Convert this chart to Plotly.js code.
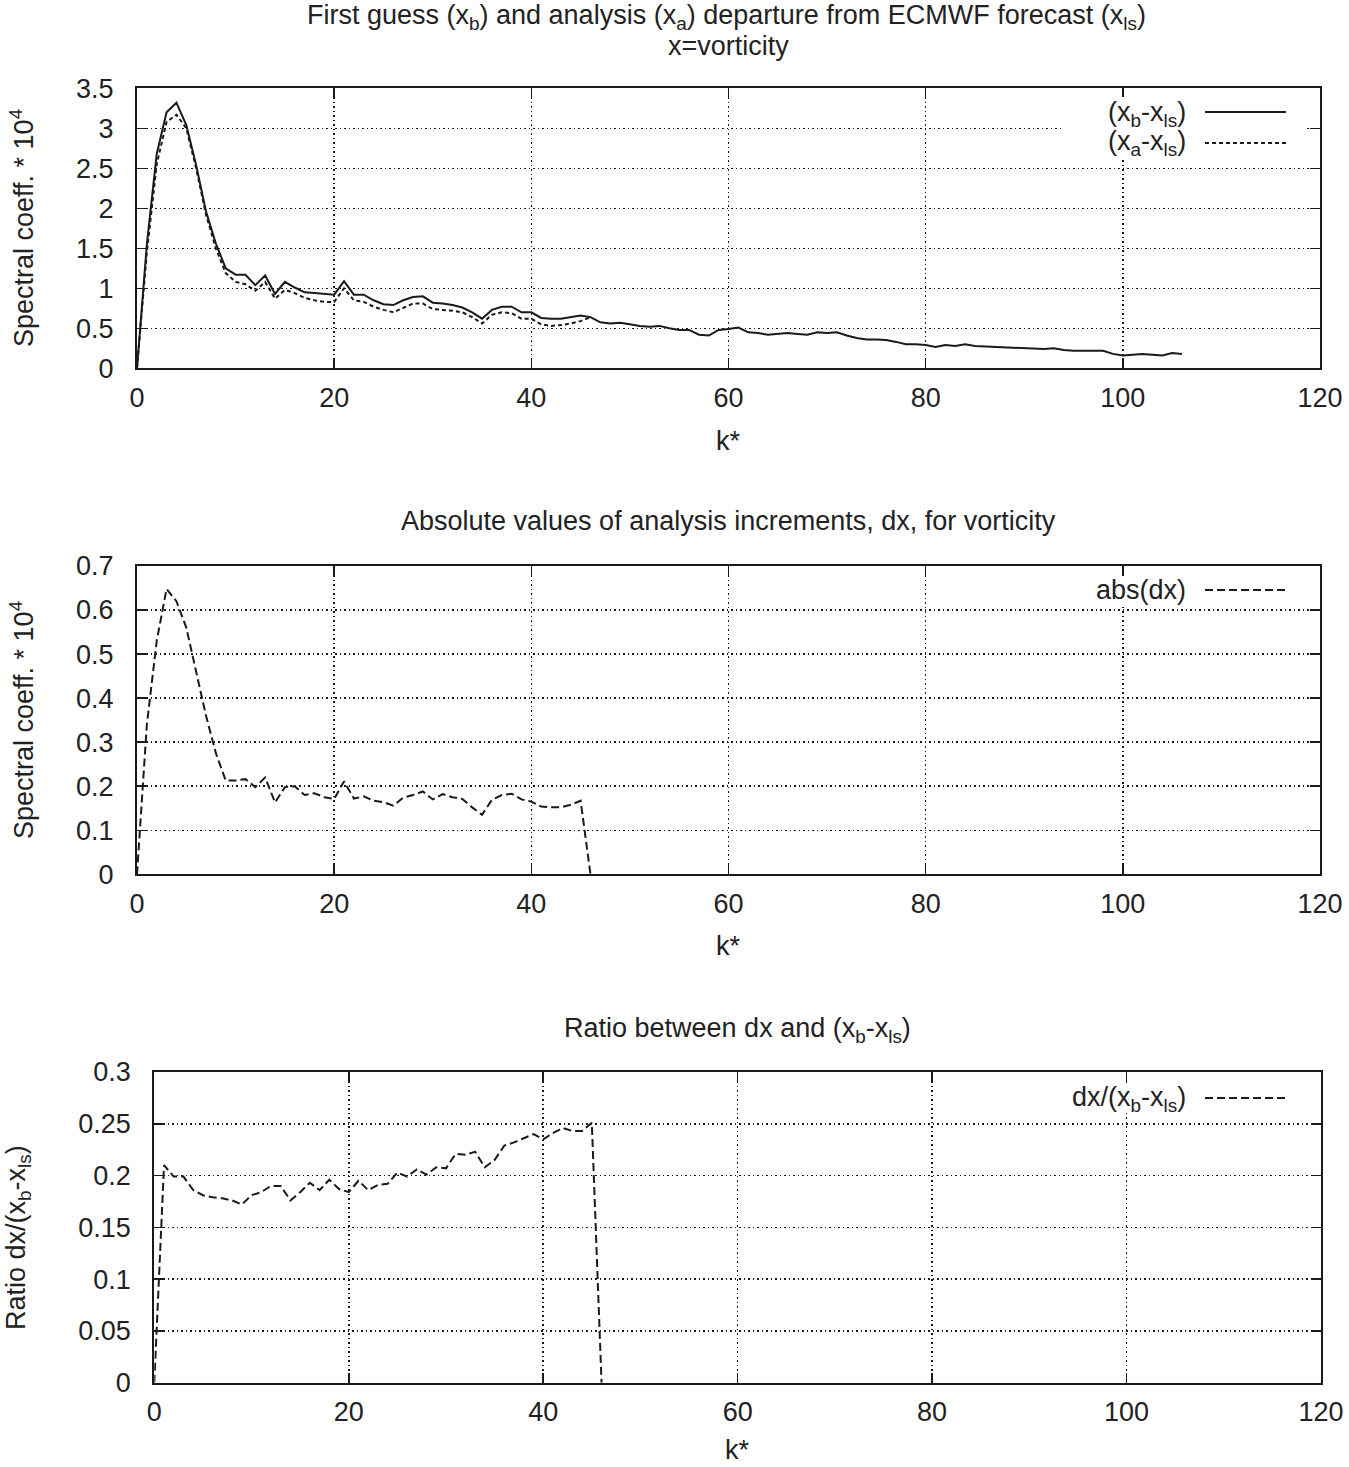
<!DOCTYPE html>
<html>
<head>
<meta charset="utf-8">
<script src="https://cdn.plot.ly/plotly-3.0.1.min.js"></script>
<style>html,body{margin:0;padding:0;background:#fff;}</style>
</head>
<body>
<div id="chart" style="width:1349px;height:1467px;"></div>
<script>
// ---- data ----
const xbMinusXls = [0,1.55,2.68,3.2,3.32,3.04,2.54,1.96,1.56,1.25,1.17,1.17,1.04,1.16,0.93,1.08,1.01,0.95,0.94,0.93,
  0.92,1.09,0.92,0.92,0.85,0.80,0.79,0.85,0.89,0.90,0.82,0.81,0.79,0.76,0.70,0.62,0.73,0.77,0.77,0.70,
  0.70,0.63,0.62,0.62,0.64,0.66,0.64,0.575,0.56,0.57,0.55,0.53,0.52,0.53,0.50,0.48,0.48,0.42,0.41,0.48,
  0.49,0.51,0.45,0.44,0.42,0.43,0.44,0.43,0.42,0.45,0.44,0.45,0.41,0.38,0.36,0.36,0.355,0.33,0.30,0.30,
  0.29,0.265,0.29,0.28,0.30,0.28,0.275,0.27,0.265,0.26,0.25,0.25,0.24,0.25,0.23,0.22,0.22,0.22,0.22,0.18,
  0.16,0.17,0.18,0.17,0.16,0.19,0.18];
const xaMinusXls = [0,1.45,2.55,3.08,3.17,3.0,2.5,1.92,1.5,1.19,1.08,1.05,0.97,1.08,0.87,0.98,0.94,0.88,0.85,0.83,
  0.83,1.0,0.85,0.83,0.77,0.73,0.70,0.76,0.81,0.81,0.74,0.73,0.72,0.70,0.64,0.56,0.67,0.70,0.69,0.62,
  0.62,0.55,0.53,0.54,0.56,0.59,0.64];
const absDx = [0,0.34,0.53,0.648,0.62,0.56,0.46,0.36,0.275,0.213,0.213,0.216,0.198,0.22,0.163,0.198,0.20,0.18,0.184,0.175,
  0.171,0.211,0.172,0.177,0.167,0.164,0.156,0.174,0.18,0.188,0.17,0.182,0.175,0.171,0.152,0.135,0.169,0.18,0.183,0.17,
  0.165,0.154,0.152,0.152,0.158,0.167,0];
const ratio = [0,0.21,0.199,0.199,0.186,0.181,0.179,0.178,0.176,0.172,0.181,0.184,0.19,0.19,0.176,0.184,0.193,0.186,0.196,0.187,
  0.184,0.195,0.186,0.191,0.192,0.203,0.199,0.206,0.201,0.208,0.207,0.221,0.22,0.223,0.208,0.215,0.229,0.232,0.236,0.24,
  0.235,0.241,0.246,0.243,0.243,0.251,0];
const kb = xbMinusXls.map((_, i) => i);
const ka = xaMinusXls.map((_, i) => i);
const kd = absDx.map((_, i) => i);
const kr = ratio.map((_, i) => i);

const xTicks = [0,20,40,60,80,100,120];
const y1Ticks = [0,0.5,1,1.5,2,2.5,3,3.5];
const y2Ticks = [0,0.1,0.2,0.3,0.4,0.5,0.6,0.7];
const y3Ticks = [0,0.05,0.1,0.15,0.2,0.25,0.3];

// ---- layout helpers ----
const W = 1349, H = 1467;
const px = v => v / W;
const py = v => 1 - v / H;
const FONT = 'Liberation Sans, Arial, sans-serif';
const TXT = '#222';
const FS = 27;

const traces = [
  {x: kb, y: xbMinusXls, xaxis: 'x', yaxis: 'y', mode: 'lines', line: {color: '#1a1a1a', width: 2}, showlegend: false},
  {x: ka, y: xaMinusXls, xaxis: 'x', yaxis: 'y', mode: 'lines', line: {color: '#1a1a1a', width: 2, dash: '4px,3px'}, showlegend: false},
  {x: kd, y: absDx, xaxis: 'x2', yaxis: 'y2', mode: 'lines', line: {color: '#1a1a1a', width: 2, dash: '8px,4px'}, showlegend: false},
  {x: kr, y: ratio, xaxis: 'x3', yaxis: 'y3', mode: 'lines', line: {color: '#1a1a1a', width: 2, dash: '8px,4px'}, showlegend: false}
];

function ax(extra) {
  return Object.assign({
    showline: true, linecolor: '#1a1a1a', linewidth: 2, mirror: 'ticks',
    ticks: 'inside', ticklen: 10, tickwidth: 1.5, tickcolor: '#1a1a1a',
    showgrid: true, gridcolor: '#1a1a1a', gridwidth: 1.5, griddash: '1.5px,3px',
    zeroline: false, tickfont: {family: FONT, size: FS, color: TXT},
    fixedrange: true
  }, extra);
}

function note(x, y, text, extra) {
  return Object.assign({xref: 'paper', yref: 'paper', x: px(x), y: py(y), xanchor: 'center', yanchor: 'middle',
    showarrow: false, text: text, font: {family: FONT, size: FS, color: TXT}}, extra || {});
}

function mask(x0, x1, y0, y1) {
  return {type: 'rect', xref: 'paper', yref: 'paper', x0: px(x0), x1: px(x1), y0: py(y1), y1: py(y0),
    fillcolor: '#fff', line: {width: 0}, layer: 'above'};
}
function sample(y, dash) {
  const l = {color: '#1a1a1a', width: 2};
  if (dash) l.dash = dash;
  return {type: 'line', xref: 'paper', yref: 'paper', x0: px(1205), x1: px(1286), y0: py(y), y1: py(y), line: l, layer: 'above'};
}

const layout = {
  width: W, height: H,
  margin: {l: 0, r: 0, t: 0, b: 0},
  paper_bgcolor: '#fff', plot_bgcolor: '#fff',
  font: {family: FONT, size: FS, color: TXT},
  showlegend: false,
  xaxis:  ax({domain: [px(137), px(1320)], range: [0, 120], tickvals: xTicks, anchor: 'y', ticklabelstandoff: 4}),
  yaxis:  ax({domain: [py(368.3), py(88.3)], range: [0, 3.5], tickvals: y1Ticks, anchor: 'x', ticklabelstandoff: 16}),
  xaxis2: ax({domain: [px(137), px(1320)], range: [0, 120], tickvals: xTicks, anchor: 'y2', ticklabelstandoff: 4}),
  yaxis2: ax({domain: [py(874.3), py(566)], range: [0, 0.7], tickvals: y2Ticks, anchor: 'x2', ticklabelstandoff: 16}),
  xaxis3: ax({domain: [px(154.3), px(1321)], range: [0, 120], tickvals: xTicks, anchor: 'y3', ticklabelstandoff: 4}),
  yaxis3: ax({domain: [py(1382.7), py(1072)], range: [0, 0.3], tickvals: y3Ticks, anchor: 'x3', ticklabelstandoff: 16}),
  shapes: [
    // legend backgrounds (mask gridlines)
    mask(1062, 1306, 97, 158),
    mask(1080, 1306, 576, 605),
    mask(1050, 1306, 1084, 1113),
    // legend samples
    sample(112),
    sample(143, '4px,3px'),
    sample(590, '8px,4px'),
    sample(1098, '8px,4px')
  ],
  annotations: [
    // titles
    note(726, 17, 'First guess (x<sub>b</sub>) and analysis (x<sub>a</sub>) departure from ECMWF forecast (x<sub>ls</sub>)'),
    note(728, 46, 'x=vorticity'),
    note(729, 521, 'Absolute values of analysis increments, dx, for vorticity'),
    note(737, 1030, 'Ratio between dx and (x<sub>b</sub>-x<sub>ls</sub>)'),
    // x axis titles
    note(729, 441, 'k*'),
    note(729, 946, 'k*'),
    note(737, 1450, 'k*'),
    // y axis titles
    note(22, 228, 'Spectral coeff. * 10<sup>4</sup>', {textangle: -90}),
    note(22, 720, 'Spectral coeff. * 10<sup>4</sup>', {textangle: -90}),
    note(18, 1238, 'Ratio dx/(x<sub>b</sub>-x<sub>ls</sub>)', {textangle: -90}),
    // legend labels
    note(1188, 114, '(x<sub>b</sub>-x<sub>ls</sub>)', {xanchor: 'right'}),
    note(1188, 143, '(x<sub>a</sub>-x<sub>ls</sub>)', {xanchor: 'right'}),
    note(1188, 590, 'abs(dx)', {xanchor: 'right'}),
    note(1188, 1099, 'dx/(x<sub>b</sub>-x<sub>ls</sub>)', {xanchor: 'right'})
  ]
};

Plotly.newPlot('chart', traces, layout, {staticPlot: true, displayModeBar: false});
</script>
</body>
</html>
